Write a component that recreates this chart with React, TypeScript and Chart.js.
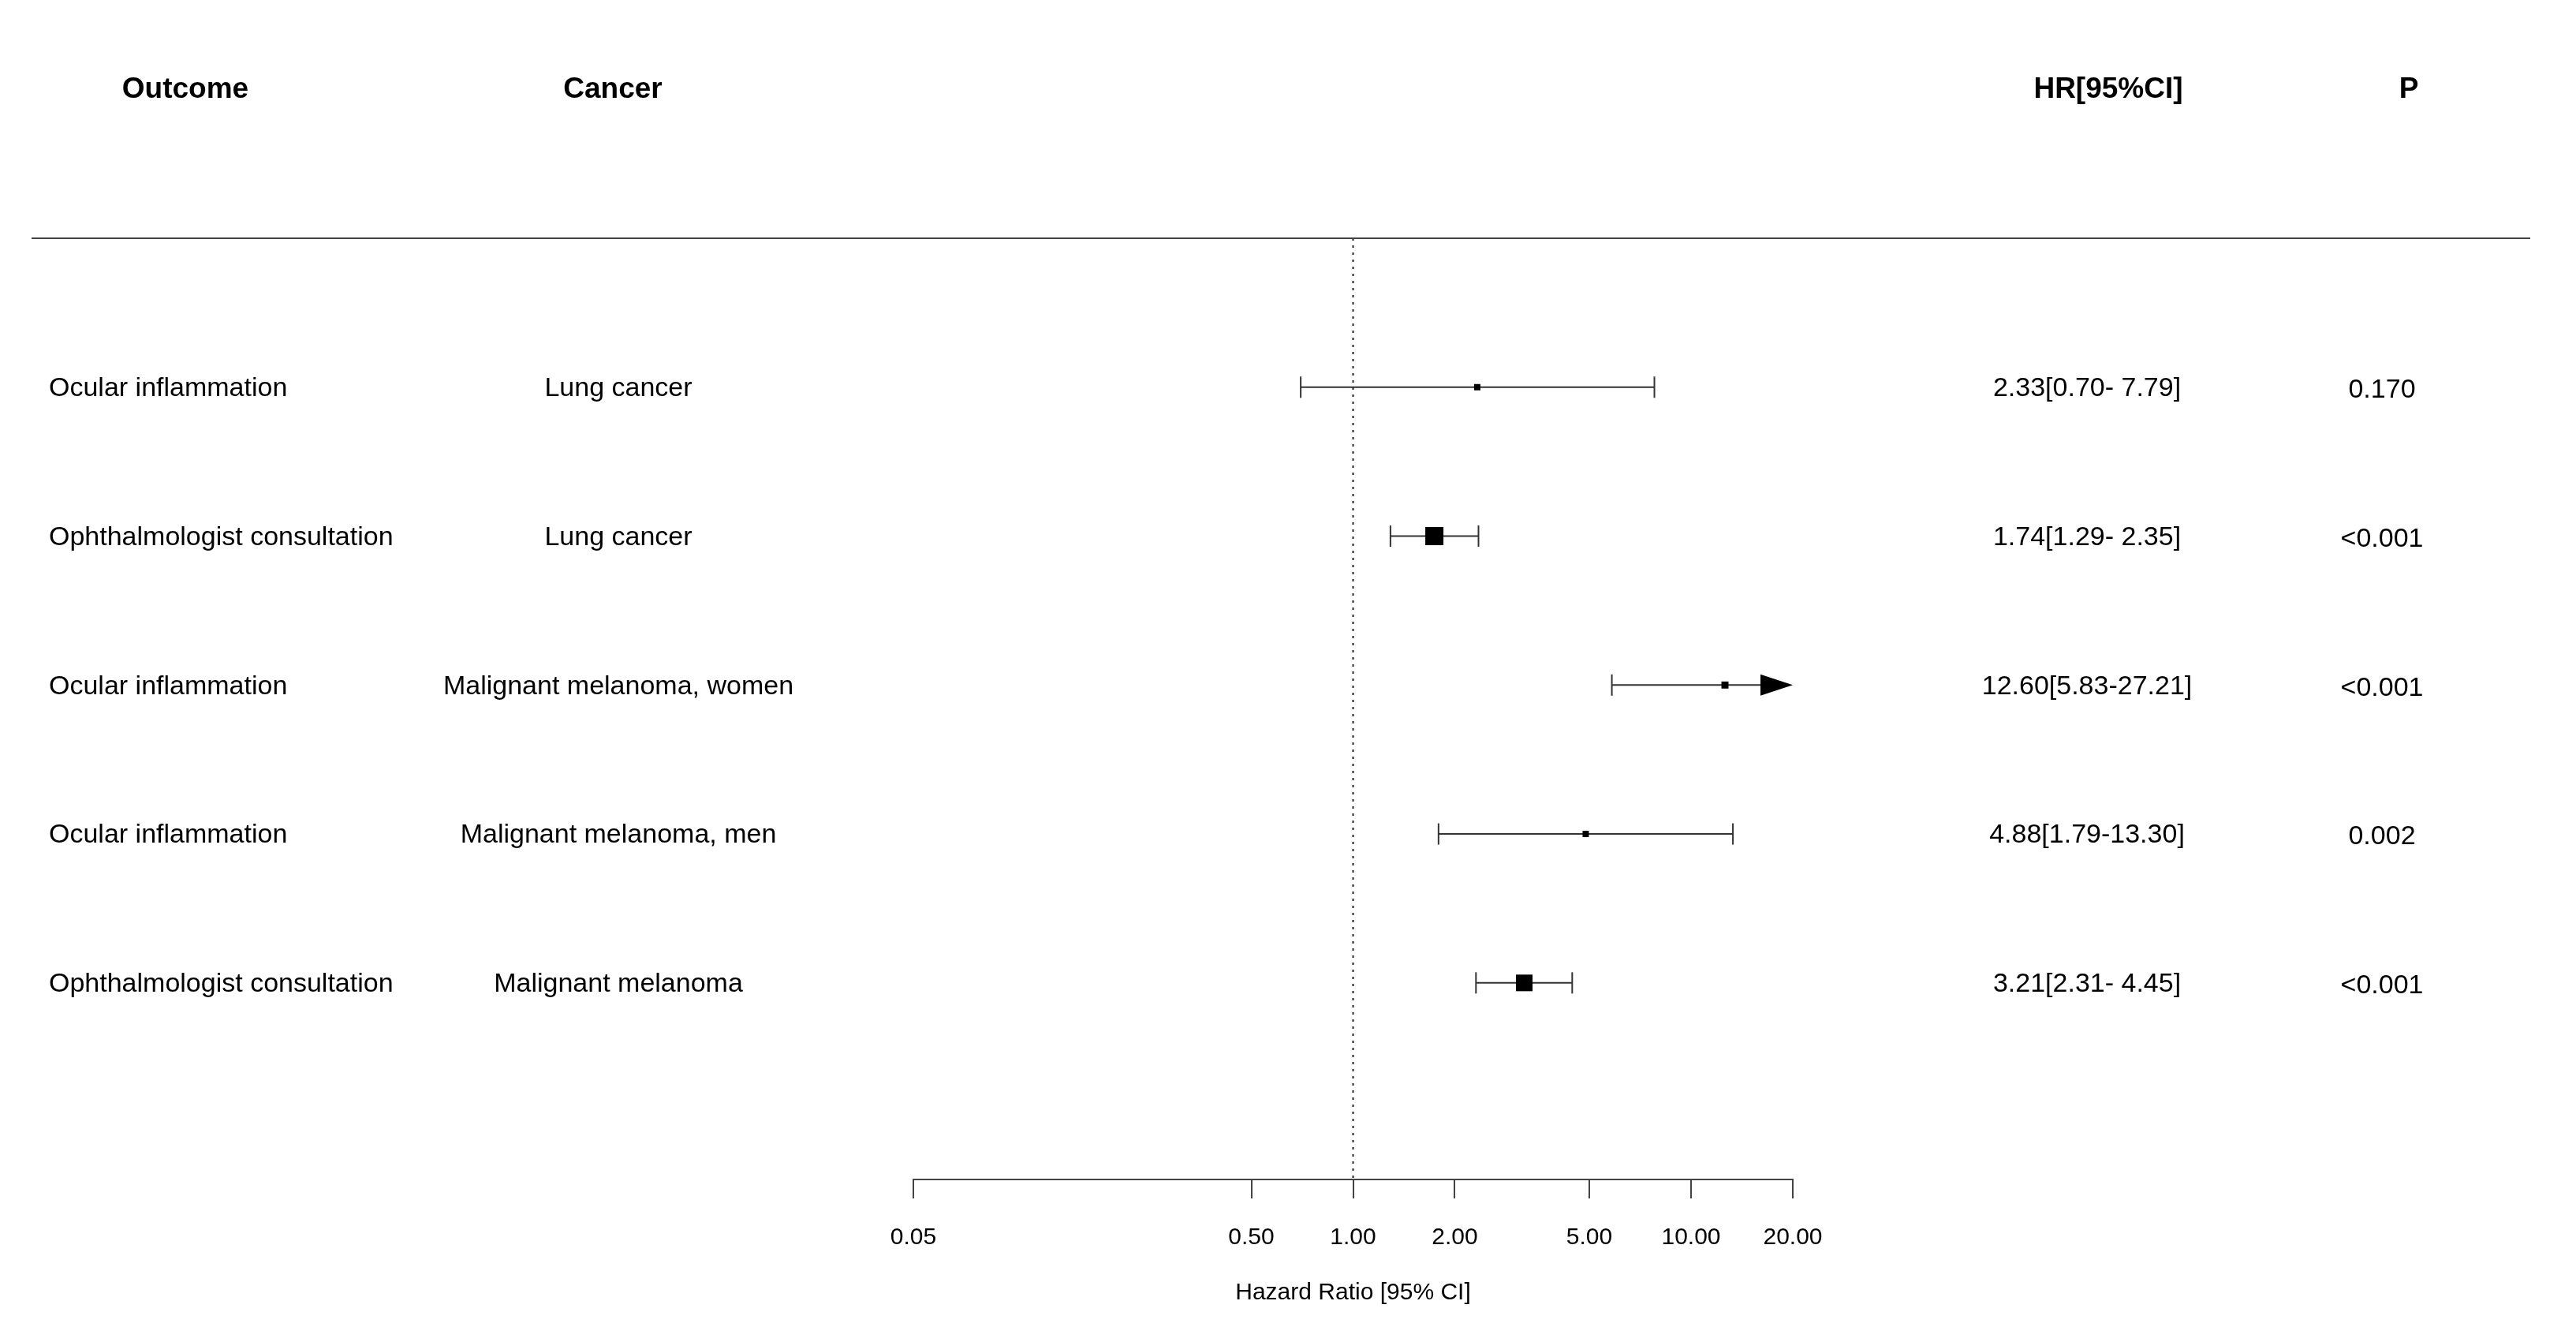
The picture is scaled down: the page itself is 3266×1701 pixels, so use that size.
import React, { useEffect, useRef } from 'react';
import { Chart, registerables } from 'chart.js';

Chart.register(...registerables);

// ---- data ----
const headers = ['Outcome', 'Cancer', 'HR[95%CI]', 'P'];
const outcomes = [
  'Ocular inflammation',
  'Ophthalmologist consultation',
  'Ocular inflammation',
  'Ocular inflammation',
  'Ophthalmologist consultation',
];
const cancers = [
  'Lung cancer',
  'Lung cancer',
  'Malignant melanoma, women',
  'Malignant melanoma, men',
  'Malignant melanoma',
];
const hr = [2.33, 1.74, 12.6, 4.88, 3.21];
const lower = [0.7, 1.29, 5.83, 1.79, 2.31];
const upper = [7.79, 2.35, 27.21, 13.3, 4.45];
const pValues = ['0.170', '<0.001', '<0.001', '0.002', '<0.001'];
const xTicks = [0.05, 0.5, 1, 2, 5, 10, 20];
const xTitle = 'Hazard Ratio [95% CI]';

const hrLabels = hr.map(
  (v, i) => `${v.toFixed(2)}[${lower[i].toFixed(2)}-${upper[i].toFixed(2).padStart(5, ' ')}]`
);

const FONT = "'Liberation Sans', Arial, Helvetica, sans-serif";
const W = 3266;
const H = 1701;

// box side grows with precision of the estimate (1 / width of log CI)
const boxSide = hr.map((_, i) => Math.max(8, 13.8 / (Math.log(upper[i]) - Math.log(lower[i]))));

const forestPlugin = {
  id: 'forestPlugin',
  beforeDatasetsDraw(chart: any) {
    const { ctx, scales } = chart;
    const x = scales.x;
    const y = scales.y;
    ctx.save();
    ctx.strokeStyle = '#333';
    ctx.fillStyle = '#000';
    ctx.lineWidth = 2;
    const a = 41;
    const h = 13.5;
    for (let i = 0; i < hr.length; i++) {
      const py = y.getPixelForValue(i + 1);
      const arrowR = upper[i] > x.max;
      const arrowL = lower[i] < x.min;
      const x1 = x.getPixelForValue(Math.max(lower[i], x.min));
      const x2 = x.getPixelForValue(Math.min(upper[i], x.max));
      const s = arrowL ? x1 + a : x1;
      const e = arrowR ? x2 - a : x2;
      ctx.beginPath();
      ctx.moveTo(s, py);
      ctx.lineTo(e, py);
      ctx.stroke();
      if (arrowR) {
        ctx.beginPath();
        ctx.moveTo(x2, py);
        ctx.lineTo(x2 - a, py - h);
        ctx.lineTo(x2 - a, py + h);
        ctx.closePath();
        ctx.fill();
      } else {
        ctx.beginPath();
        ctx.moveTo(x2, py - h);
        ctx.lineTo(x2, py + h);
        ctx.stroke();
      }
      if (arrowL) {
        ctx.beginPath();
        ctx.moveTo(x1, py);
        ctx.lineTo(x1 + a, py - h);
        ctx.lineTo(x1 + a, py + h);
        ctx.closePath();
        ctx.fill();
      } else {
        ctx.beginPath();
        ctx.moveTo(x1, py - h);
        ctx.lineTo(x1, py + h);
        ctx.stroke();
      }
    }
    ctx.restore();
  },
  afterDraw(chart: any) {
    const { ctx, scales } = chart;
    const y = scales.y;
    ctx.save();
    // header
    ctx.fillStyle = '#000';
    ctx.textBaseline = 'middle';
    ctx.textAlign = 'center';
    ctx.font = `bold 37px ${FONT}`;
    const headerX = [235, 777, 2673, 3054];
    headers.forEach((t, k) => ctx.fillText(t, headerX[k], 114));
    // header rule
    ctx.strokeStyle = '#444';
    ctx.lineWidth = 2;
    ctx.beginPath();
    ctx.moveTo(40, 302);
    ctx.lineTo(3208, 302);
    ctx.stroke();
    // rows
    ctx.font = `34px ${FONT}`;
    for (let i = 0; i < hr.length; i++) {
      const py = y.getPixelForValue(i + 1);
      ctx.textAlign = 'left';
      ctx.fillText(outcomes[i], 62, py + 2);
      ctx.textAlign = 'center';
      ctx.fillText(cancers[i], 784, py + 2);
      ctx.fillText(hrLabels[i], 2646, py + 2);
      ctx.fillText(pValues[i], 3020, py + 4);
    }
    ctx.restore();
  },
};

export default function App() {
  const ref = useRef<HTMLCanvasElement>(null);
  useEffect(() => {
    const canvas = ref.current;
    if (!canvas) return;
    const chart = new Chart(canvas, {
      type: 'scatter',
      data: {
        datasets: [
          {
            type: 'line',
            data: [
              { x: 1, y: 0 },
              { x: 1, y: 6.32 },
            ],
            borderColor: '#222',
            borderWidth: 2,
            borderDash: [3, 6],
            pointRadius: 0,
            fill: false,
          } as any,
          {
            type: 'scatter',
            data: hr.map((v, i) => ({ x: v, y: i + 1 })),
            pointStyle: 'rect',
            pointRadius: boxSide.map((s) => s / Math.SQRT2),
            pointHoverRadius: boxSide.map((s) => s / Math.SQRT2),
            backgroundColor: '#000',
            borderWidth: 0,
          } as any,
        ],
      },
      options: {
        animation: false,
        responsive: false,
        devicePixelRatio: 1,
        events: [],
        layout: { padding: { left: 1158, right: 993, top: 302, bottom: 40 } },
        plugins: { legend: { display: false }, tooltip: { enabled: false } },
        scales: {
          x: {
            type: 'logarithmic',
            position: 'bottom',
            min: 0.05,
            max: 20,
            afterBuildTicks: (scale: any) => {
              scale.ticks = xTicks.map((v) => ({ value: v }));
            },
            ticks: {
              autoSkip: false,
              maxRotation: 0,
              padding: 32,
              color: '#000',
              font: { family: FONT, size: 30 },
              callback: (v: any) => Number(v).toFixed(2),
            },
            grid: {
              drawOnChartArea: false,
              drawTicks: true,
              tickLength: 24,
              color: '#444',
              lineWidth: 2,
            },
            border: { display: true, color: '#444', width: 2 },
            title: {
              display: true,
              text: xTitle,
              color: '#000',
              font: { family: FONT, size: 30 },
              padding: { top: 2, bottom: 4 },
            },
          },
          y: {
            type: 'linear',
            min: 0,
            max: 6.32,
            reverse: true,
            display: false,
          },
        },
      },
      plugins: [forestPlugin],
    } as any);
    return () => chart.destroy();
  }, []);
  return (
    <div style={{ position: 'absolute', left: 0, top: 0, width: W, height: H, background: '#fff' }}>
      <canvas ref={ref} width={W} height={H} style={{ display: 'block', width: W, height: H }} />
    </div>
  );
}
